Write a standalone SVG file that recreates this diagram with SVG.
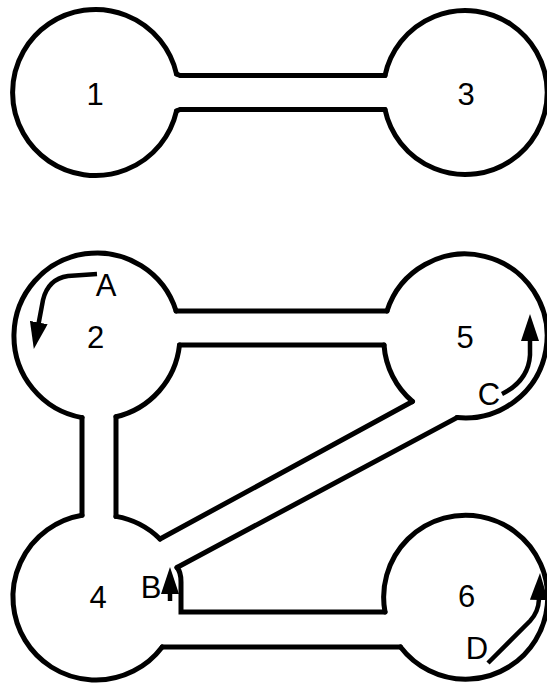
<svg xmlns="http://www.w3.org/2000/svg" width="547" height="686" viewBox="0 0 547 686">
  <style>
    .wall { fill: none; stroke: #000; stroke-width: 5; stroke-linecap: round; stroke-linejoin: miter; }
    .lbl { font-family: "Liberation Sans", Arial, sans-serif; font-size: 31px; fill: #000; text-anchor: middle; }
    .arr { fill: none; stroke: #000; stroke-width: 4.5; marker-end: url(#ah); }
  </style>
  <defs>
    <marker id="ah" markerUnits="userSpaceOnUse" markerWidth="27" markerHeight="18" viewBox="0 0 27 18" refX="1" refY="9" orient="auto">
      <path d="M0,0 L27,9 L0,18 Z" fill="#000"/>
    </marker>
  </defs>
  <rect width="547" height="686" fill="#fff"/>

  <g id="connectors">
    <!-- corridor 1-3 -->
    <path class="wall" d="M176.5 74 L180 75.5 H385"/>
    <path class="wall" d="M176.5 111 L180 109.5 H385"/>
    <!-- corridor 2-5 -->
    <path class="wall" d="M176.1 311 H387"/>
    <path class="wall" d="M179.5 345 H384"/>
    <!-- corridor 2-4 -->
    <path class="wall" d="M82 417.6 V515.2"/>
    <path class="wall" d="M116 416.8 V516.4"/>
    <!-- corridor 4-5 (diagonal) -->
    <path class="wall" d="M412.5 401.5 L160 539"/>
    <path class="wall" d="M457 417.6 L177 567.5"/>
    <!-- corridor 4-6 -->
    <path class="wall" d="M177 567.5 Q181 572 181 582 V612 H385"/>
    <path class="wall" d="M162.2 647 H400.5"/>
  </g>

  <g id="node-1">
    <path class="wall" d="M176.5 111 A83 83 0 1 1 176.5 74"/>
    <text class="lbl" x="95" y="105">1</text>
  </g>
  <g id="node-3">
    <path class="wall" d="M385 75.5 A82 82 0 1 1 385 109.5"/>
    <text class="lbl" x="466" y="105">3</text>
  </g>
  <g id="node-2">
    <path class="wall" d="M82 417.6 A83 83 0 1 1 176.1 311"/>
    <path class="wall" d="M116 416.8 A83 83 0 0 0 179.5 345"/>
    <text class="lbl" x="95.5" y="348">2</text>
  </g>
  <g id="node-5">
    <path class="wall" d="M387 311 A82 82 0 1 1 457 417.6"/>
    <path class="wall" d="M384 345 A82 82 0 0 0 412.5 401.5"/>
    <text class="lbl" x="465" y="348">5</text>
  </g>
  <g id="node-4">
    <path class="wall" d="M162.2 647 A83 83 0 1 1 82 515.2"/>
    <path class="wall" d="M160 539 A83 83 0 0 0 116 516.4"/>
    <text class="lbl" x="98" y="608">4</text>
  </g>
  <g id="node-6">
    <path class="wall" d="M385 612 A82 82 0 1 1 400.5 647"/>
    <text class="lbl" x="466.5" y="607">6</text>
  </g>

  <g id="arrows">
    <path class="arr" d="M97 274 L68 276 Q48 279 43 300 L38.6 323.5"/>
    <text class="lbl" x="106" y="296">A</text>
    <path class="arr" d="M170 601 V593"/>
    <text class="lbl" x="151" y="598">B</text>
    <path class="arr" d="M502 394 C520 385 529 372 530 355 L530 340"/>
    <text class="lbl" x="489" y="405">C</text>
    <path class="arr" d="M488 663 L530 621 Q538.5 612 539 599"/>
    <text class="lbl" x="477" y="659">D</text>
  </g>
</svg>
